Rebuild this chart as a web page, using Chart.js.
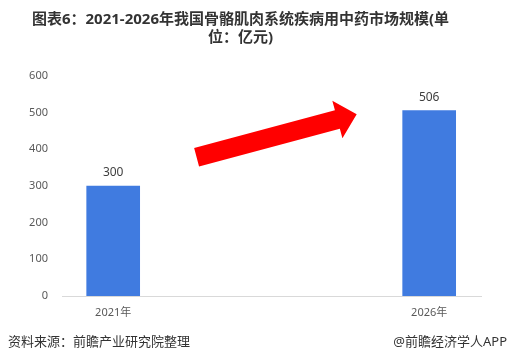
<!DOCTYPE html>
<html>
<head>
<meta charset="utf-8">
<script src="https://cdn.jsdelivr.net/npm/chart.js@4.4.1/dist/chart.umd.min.js"></script>
<style>
  html, body { margin: 0; padding: 0; background: #ffffff; }
  #wrap { position: relative; width: 508px; height: 362px; }
  canvas { display: block; }
</style>
</head>
<body>
<div id="wrap"><canvas id="c" width="508" height="362"></canvas></div>
<script>
// ---- data ----
const categories = ['2021年', '2026年'];
const years = [2021, 2026];
const marketSize = [300, 506];
const yTicks = [0, 100, 200, 300, 400, 500, 600];
const titleLines = ['图表6：2021-2026年我国骨骼肌肉系统疾病用中药市场规模(单', '位：亿元)'];
const sourceText = '资料来源：前瞻产业研究院整理';
const brandText = '@前瞻经济学人APP';

const FONT = "'Noto Sans', 'Noto Sans CJK SC', sans-serif";

const valueLabels = {
  id: 'valueLabels',
  afterDatasetsDraw(chart) {
    const ctx = chart.ctx;
    const meta = chart.getDatasetMeta(0);
    ctx.save();
    ctx.font = '12px ' + FONT;
    ctx.fillStyle = '#404040';
    ctx.textAlign = 'center';
    ctx.textBaseline = 'bottom';
    meta.data.forEach((bar, i) => {
      ctx.fillText(String(marketSize[i]), bar.x, bar.y - 7);
    });
    ctx.restore();
  }
};

const arrow = {
  id: 'arrow',
  afterDatasetsDraw(chart) {
    const ctx = chart.ctx;
    const sx = 196.6, sy = 157.2, tx = 356.7, ty = 114.3;
    const ang = Math.atan2(ty - sy, tx - sx);
    const len = Math.hypot(tx - sx, ty - sy);
    const shaft = 9.5, head = 19.5, headLen = 20;
    ctx.save();
    ctx.translate(sx, sy);
    ctx.rotate(ang);
    ctx.beginPath();
    ctx.moveTo(0, -shaft);
    ctx.lineTo(len - headLen, -shaft);
    ctx.lineTo(len - headLen, -head);
    ctx.lineTo(len, 0);
    ctx.lineTo(len - headLen, head);
    ctx.lineTo(len - headLen, shaft);
    ctx.lineTo(0, shaft);
    ctx.closePath();
    ctx.fillStyle = '#ff0000';
    ctx.fill();
    ctx.restore();
  }
};

const footer = {
  id: 'footer',
  afterDraw(chart) {
    const ctx = chart.ctx;
    ctx.save();
    ctx.font = '13px ' + FONT;
    ctx.fillStyle = '#333333';
    ctx.textBaseline = 'middle';
    ctx.textAlign = 'left';
    ctx.fillText(sourceText, 8, 342);
    ctx.textAlign = 'right';
    ctx.fillText(brandText, 507, 342);
    ctx.restore();
  }
};

new Chart(document.getElementById('c'), {
  type: 'bar',
  data: {
    datasets: [{
      data: years.map((y, i) => ({ x: y, y: marketSize[i] })),
      backgroundColor: '#407be0',
      barThickness: 53
    }]
  },
  options: {
    responsive: false,
    animation: false,
    layout: { padding: { left: 0, right: 27, top: 0, bottom: 36 } },
    plugins: {
      legend: { display: false },
      tooltip: { enabled: false },
      title: {
        display: true,
        text: titleLines,
        color: '#333333',
        font: { family: FONT, size: 15, weight: 'bold', lineHeight: 1.2 },
        padding: { top: 11, bottom: 29 }
      }
    },
    scales: {
      x: {
        type: 'linear',
        offset: false,
        min: 2020.19,
        max: 2026.82,
        afterBuildTicks(scale) { scale.ticks = years.map(v => ({ value: v })); },
        afterFit(scale) { scale.height = 30; },
        grid: { display: false, drawTicks: false, offset: false },
        border: { display: true, color: '#d9d9d9', width: 1 },
        ticks: {
          padding: 10,
          color: '#595959',
          font: { family: FONT, size: 11 },
          callback: (v) => categories[years.indexOf(v)],
          maxRotation: 0
        }
      },
      y: {
        min: 0,
        max: 600,
        afterBuildTicks(scale) { scale.ticks = yTicks.map(v => ({ value: v })); },
        afterFit(scale) { scale.width = 62; },
        grid: { display: false, drawTicks: false },
        border: { display: false },
        ticks: {
          padding: 14,
          color: '#595959',
          font: { family: FONT, size: 11 }
        }
      }
    }
  },
  plugins: [valueLabels, arrow, footer]
});
</script>
</body>
</html>
